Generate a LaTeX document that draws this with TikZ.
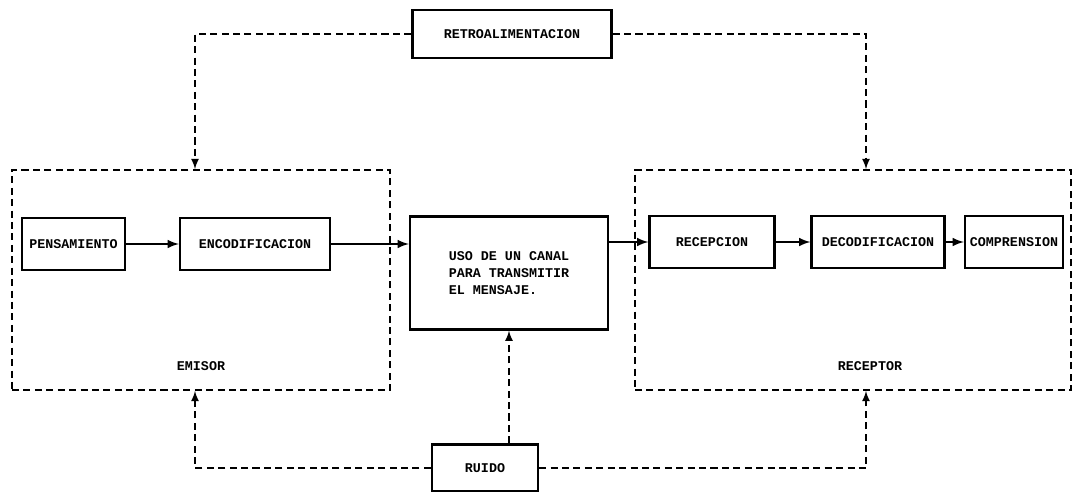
\documentclass[tikz,border=0pt]{standalone}
\usepackage{fontspec}
\setmonofont{Liberation Mono}
\usetikzlibrary{arrows}
\begin{document}
\begin{tikzpicture}[node distance=1cm, >=latex, font=\ttfamily\bfseries\fontsize{7.6}{9.5}\selectfont]
        \tikzstyle{block}=[draw, line width=1.3pt, minimum height=1.04cm, inner sep=2pt];
        \tikzstyle{zone}=[draw, dash pattern=on 4pt off 2.5pt, line width=1pt, minimum width=7.56cm, minimum height=4.4cm];
        \tikzstyle{flow}=[->, line width=1.2pt];
        \tikzstyle{fb}=[->, dash pattern=on 4pt off 2.5pt, line width=1pt];

        \useasboundingbox (0,0) rectangle (21.58,-9.84);

        \node[zone] (emisor) at (4.02,-5.60) {};
        \node[zone, minimum width=8.72cm] (receptor) at (17.06,-5.60) {};

        \node[block, minimum width=2.06cm] (pens) at (1.47,-4.88) {PENSAMIENTO};
        \node[block, minimum width=3cm, right of=pens, xshift=2.63cm] (enc) {ENCODIFICACION};
        \node[block, minimum width=3.96cm, minimum height=2.26cm, align=left, right of=enc, xshift=4.08cm, yshift=-0.58cm] (canal) {USO DE UN CANAL\\PARA TRANSMITIR\\EL MENSAJE.};
        \node[block, minimum width=2.5cm, right of=canal, xshift=3.06cm, yshift=0.62cm] (recep) {RECEPCION};
        \node[block, minimum width=2.66cm, right of=recep, xshift=2.32cm] (decod) {DECODIFICACION};
        \node[block, minimum width=1.96cm, right of=decod, xshift=1.72cm] (compr) {COMPRENSION};

        \node[block, minimum width=3.98cm, minimum height=0.96cm] (retro) at (10.24,-0.68) {RETROALIMENTACION};
        \node[block, minimum width=2.12cm, minimum height=0.94cm] (ruido) at (9.70,-9.36) {RUIDO};

        \node (emisorlbl) at ([yshift=0.5cm]emisor.south) {EMISOR};
        \node (receptorlbl) at ([xshift=0.34cm, yshift=0.5cm]receptor.south) {RECEPTOR};

        \coordinate (emtop) at ([xshift=-0.12cm]emisor.north);
        \coordinate (rctop) at ([xshift=0.26cm]receptor.north);
        \coordinate (embot) at ([xshift=-0.12cm]emisor.south);
        \coordinate (rcbot) at ([xshift=0.26cm]receptor.south);

        \draw[flow] (pens) -- (enc);
        \draw[flow] (enc.east) -- (enc.east -| canal.west);
        \draw[flow] (recep.west -| canal.east) -- (recep.west);
        \draw[flow] (recep) -- (decod);
        \draw[flow] (decod) -- (compr);

        \draw[fb] (retro.west) -| (emtop);
        \draw[fb] (retro.east) -| (rctop);
        \draw[fb] (ruido.west) -| (embot);
        \draw[fb] (ruido.east) -| (rcbot);
        \draw[fb] (ruido.north -| canal.south) -- (canal.south);
    \end{tikzpicture}
\end{document}
